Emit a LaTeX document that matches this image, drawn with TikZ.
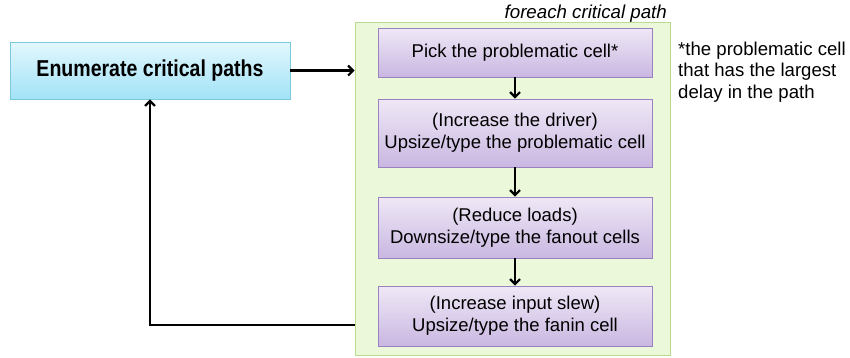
\documentclass[tikz,border=0pt]{standalone}
\usepackage{fontspec}
\setmainfont{Liberation Sans}
\newfontfamily\narrowfont[FakeStretch=0.85]{Liberation Sans}
\usetikzlibrary{arrows.meta}
\definecolor{cyantop}{HTML}{E2F7FD}
\definecolor{cyanbot}{HTML}{A2E3F7}
\definecolor{cyanline}{HTML}{7CC9DD}
\definecolor{greenfill}{HTML}{EBF9DA}
\definecolor{greenline}{HTML}{B9DC8E}
\definecolor{lavtop}{HTML}{EFE8F6}
\definecolor{lavbot}{HTML}{C9B7E1}
\definecolor{lavline}{HTML}{9A82C2}
\tikzset{
  startbox/.style={draw=cyanline, line width=0.8pt, top color=cyantop, bottom color=cyanbot,
    minimum width=280pt, minimum height=57pt, inner sep=0pt,
    font=\narrowfont\fontsize{23}{26}\selectfont\bfseries},
  loopbox/.style={draw=greenline, line width=0.8pt, fill=greenfill,
    minimum width=315pt, minimum height=333pt, inner sep=0pt},
  stepbox/.style={draw=lavline, line width=0.8pt, top color=lavtop, bottom color=lavbot,
    minimum width=274pt, inner sep=0pt, align=center,
    font=\fontsize{18.5}{22}\selectfont},
  arr/.style={-{Straight Barb[length=5pt,width=10pt,line width=2.2pt]}, line width=2.3pt, black},
}
\begin{document}
\begin{tikzpicture}[x=1pt,y=-1pt]
\useasboundingbox (0,0) rectangle (850,357);
\node[startbox] (enum) at (150,70.5) {Enumerate critical paths};
\node[loopbox] (cont) at (512.5,188.5) {};
\node[anchor=base east, font=\fontsize{18.7}{20}\selectfont\itshape, inner sep=0pt]
  (title) at (667,18) {foreach critical path};
\node[stepbox, minimum height=49pt] (s1) at (515,52.5) {Pick the problematic cell*};
\node[stepbox, minimum height=68pt] (s2) at (515,133) {(Increase the driver)\\Upsize/type the problematic cell};
\node[stepbox, minimum height=61pt] (s3) at (515,227.5) {(Reduce loads)\\Downsize/type the fanout cells};
\node[stepbox, minimum height=60pt] (s4) at (515,316) {(Increase input slew)\\Upsize/type the fanin cell};
\node[anchor=north west, align=left, inner sep=0pt, font=\fontsize{18.6}{21.5}\selectfont]
  (note) at (678,41.5) {*the problematic cell\\that has the largest\\delay in the path};
\coordinate (back) at (cont.west |- 0,325);
\draw[arr] (enum.east) -- (cont.west |- enum.east);
\draw[arr] (s1) -- (s2);
\draw[arr] (s2) -- (s3);
\draw[arr] (s3) -- (s4);
\draw[arr] (back) -| (enum.south);
\end{tikzpicture}
\end{document}
